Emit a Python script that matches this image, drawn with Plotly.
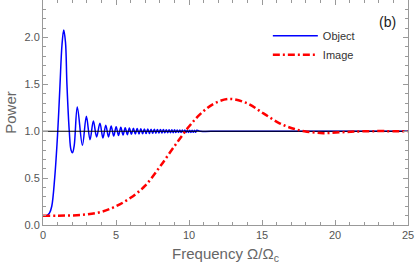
import plotly.graph_objects as go

# Object (blue) curve (extrema and key points)
obj_x = [0, 0.25, 0.45, 0.6, 0.8, 1.0, 1.16, 1.3, 1.42, 1.54, 1.64, 1.8, 1.92, 2.02, 2.14,
         2.35, 2.7, 2.97, 3.22, 3.45, 3.67, 3.9, 4.105, 4.301, 4.489, 4.669, 4.843, 5.010,
         5.172, 5.329, 5.482, 5.630, 5.775, 5.916, 6.054, 6.189, 6.321, 6.450, 6.576, 6.701,
         6.823, 6.943, 7.060, 7.176, 7.290, 7.403, 7.513, 7.622, 7.730, 7.836, 7.940, 8.044,
         8.146, 8.246, 8.346, 8.444, 8.541, 8.637, 8.732, 8.826, 8.919, 9.011, 9.102, 9.192,
         9.282, 9.370, 9.458, 9.545, 9.631, 9.716, 9.801, 9.884, 9.967, 10.050, 10.132,
         10.213, 10.293, 10.373, 10.452, 10.531, 10.8, 12, 15, 20, 25]
obj_y = [0.1, 0.1, 0.13, 0.2, 0.5, 0.97, 1.48, 1.92, 2.08, 1.95, 1.5, 1.0, 0.8, 0.77, 0.85,
         1.26, 0.85, 1.16, 0.91, 1.11, 0.94, 1.085, 0.929, 1.065, 0.940, 1.055, 0.949, 1.048,
         0.955, 1.042, 0.960, 1.038, 0.964, 1.034, 0.967, 1.031, 0.970, 1.029, 0.972, 1.027,
         0.974, 1.025, 0.976, 1.023, 0.977, 1.022, 0.979, 1.021, 0.980, 1.020, 0.981, 1.019,
         0.982, 1.018, 0.983, 1.017, 0.984, 1.016, 0.984, 1.015, 0.985, 1.015, 0.986, 1.014,
         0.986, 1.014, 0.987, 1.013, 0.987, 1.013, 0.988, 1.012, 0.988, 1.012, 0.988,
         1.011, 0.989, 1.011, 0.989, 1.010, 1.0, 1.0, 1.0, 1.0, 1.0]

# Image (red) curve
img_x = [0, 1, 2, 3, 4, 5, 6, 7, 8, 9, 10, 10.75, 11.66, 12.76, 13.95, 15.1, 16.2, 17.1,
         17.9, 19.2, 20.5, 22, 25]
img_y = [0.1, 0.1, 0.102, 0.113, 0.14, 0.2, 0.29, 0.42, 0.62, 0.84, 1.05, 1.18, 1.29, 1.345,
         1.30, 1.19, 1.085, 1.03, 1.0, 0.98, 0.99, 1.0, 1.0]

ref_x = [0, 25]
ref_y = [1, 1]

x_ticks = [0, 5, 10, 15, 20, 25]
y_ticks = [0.0, 0.5, 1.0, 1.5, 2.0]

FONT = "Liberation Sans, Arial, sans-serif"

fig = go.Figure()
fig.add_trace(go.Scatter(x=obj_x, y=obj_y, mode="lines", name="Object",
                         line=dict(color="#0000ff", width=1.5, shape="spline", smoothing=1.0)))
fig.add_trace(go.Scatter(x=ref_x, y=ref_y, mode="lines", showlegend=False,
                         line=dict(color="black", width=1)))
fig.add_trace(go.Scatter(x=img_x, y=img_y, mode="lines", name="Image",
                         line=dict(color="#ff0000", width=2.5, shape="spline",
                                   dash="7px,3px,2px,3px")))

axis_common = dict(showline=True, linecolor="#999999", linewidth=1, mirror="allticks",
                   ticks="inside", ticklen=5, tickcolor="#999999", showgrid=False,
                   zeroline=False, automargin=False,
                   tickfont=dict(family=FONT, size=11, color="#555555"))

fig.update_xaxes(range=[0, 25], tickvals=x_ticks, ticktext=[str(v) for v in x_ticks],
                 minor=dict(dtick=1, ticks="inside", ticklen=3, tickcolor="#999999"),
                 title=dict(text="Frequency Ω/Ω<sub>c</sub>", standoff=8,
                            font=dict(family=FONT, size=15, color="#666666")),
                 **axis_common)
fig.update_yaxes(range=[0, 2.4], tickvals=y_ticks, ticktext=[f"{v:.1f}" for v in y_ticks],
                 minor=dict(dtick=0.1, ticks="inside", ticklen=3, tickcolor="#999999"),
                 title=dict(text="Power", standoff=4,
                            font=dict(family=FONT, size=15, color="#666666")),
                 **axis_common)

fig.add_annotation(text="(b)", xref="paper", yref="paper", x=0.972, y=0.948,
                   showarrow=False, font=dict(family=FONT, size=14, color="#222222"))

fig.update_layout(
    width=415, height=267,
    margin=dict(l=43, r=7, t=0, b=42),
    plot_bgcolor="white", paper_bgcolor="white",
    legend=dict(x=0.616, y=0.906, xanchor="left", yanchor="top",
                bgcolor="rgba(0,0,0,0)", font=dict(family=FONT, size=11, color="#333333"),
                itemwidth=45),
)

fig.write_html("out.html", config={"displayModeBar": False},
               post_script="document.body.style.margin='0';")
